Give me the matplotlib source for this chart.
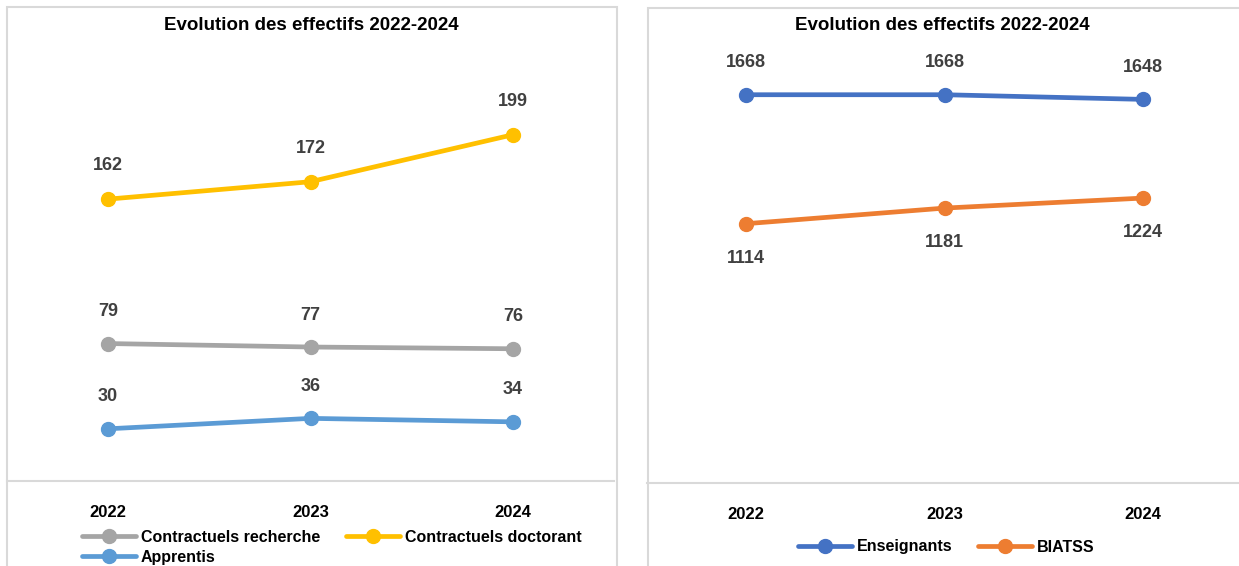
import matplotlib as mpl
mpl.use('Agg')
import matplotlib.pyplot as plt
from matplotlib.patches import Rectangle

plt.rcParams['font.family'] = ['Liberation Sans Narrow', 'Liberation Sans', 'DejaVu Sans']

years = ['2022', '2023', '2024']

# left chart
recherche = [79, 77, 76]
doctorant = [162, 172, 199]
apprentis = [30, 36, 34]

# right chart
enseignants = [1668, 1668, 1648]
biatss = [1114, 1181, 1224]

TITLE = 'Evolution des effectifs 2022-2024'
LABEL_COLOR = '#404040'
BORDER = '#D9D9D9'

W, H = 1239, 566
fig = plt.figure(figsize=(W / 100, H / 100), dpi=100)


def px_axes(x0, y_top, x1, y_bot):
    return fig.add_axes([x0 / W, 1 - y_bot / H, (x1 - x0) / W, (y_bot - y_top) / H])


def panel(x0, y0, x1, y1):
    fig.patches.append(Rectangle((x0 / W, 1 - y1 / H), (x1 - x0) / W, (y1 - y0) / H,
                                 transform=fig.transFigure, fill=False,
                                 edgecolor=BORDER, linewidth=1.5))


def style_axes(ax, ymax):
    ax.set_xlim(-0.5, 2.5)
    ax.set_ylim(0, ymax)
    for s in ['top', 'left', 'right']:
        ax.spines[s].set_visible(False)
    ax.spines['bottom'].set_color(BORDER)
    ax.spines['bottom'].set_linewidth(1.5)
    ax.set_yticks([])
    ax.set_xticks(range(3))
    ax.set_xticklabels(years, fontsize=12, fontweight='bold')
    ax.tick_params(axis='x', length=0, pad=17)
    ax.patch.set_alpha(0)


def plot_series(ax, vals, color, label, offset):
    line, = ax.plot(range(3), vals, '-o', color=color, lw=3.4, ms=10, label=label,
                    solid_capstyle='round')
    for i, v in enumerate(vals):
        ax.annotate(str(v), (i, v), xytext=(0, offset), textcoords='offset points',
                    ha='center', va='center', fontsize=13, fontweight='bold',
                    color=LABEL_COLOR)
    return line


panel(7, 7, 617, 600)
panel(648, 8, 1260, 600)

ax1 = px_axes(7, 46, 614, 481)
style_axes(ax1, 250)
l_rec = plot_series(ax1, recherche, '#A5A5A5', 'Contractuels recherche', 23)
l_doc = plot_series(ax1, doctorant, '#FFC000', 'Contractuels doctorant', 24)
l_app = plot_series(ax1, apprentis, '#5B9BD5', 'Apprentis', 23)
fig.text(311 / W, 1 - 25 / H, TITLE, ha='center', va='center', fontsize=13.5, fontweight='bold')
fig.legend([l_rec, l_app, l_doc],
           ['Contractuels recherche', 'Apprentis', 'Contractuels doctorant'],
           ncol=2, loc='upper left', bbox_to_anchor=(74 / W, 1 - 522 / H),
           frameon=False, prop={'size': 11.5, 'weight': 'bold'},
           handlelength=3.4, handletextpad=0.3, columnspacing=1.6,
           labelspacing=0.3, borderpad=0)

ax2 = px_axes(647, 64, 1242, 483)
style_axes(ax2, 1800)
l_ens = plot_series(ax2, enseignants, '#4472C4', 'Enseignants', 23)
l_bia = plot_series(ax2, biatss, '#ED7D31', 'BIATSS', -25)
fig.text(942 / W, 1 - 25 / H, TITLE, ha='center', va='center', fontsize=13.5, fontweight='bold')
fig.legend([l_ens, l_bia], ['Enseignants', 'BIATSS'], ncol=2, loc='center',
           bbox_to_anchor=(946 / W, 1 - 547 / H), frameon=False,
           prop={'size': 11.5, 'weight': 'bold'}, handlelength=3.4,
           handletextpad=0.3, columnspacing=1.6, borderpad=0)

fig.savefig('out.png', dpi=100)
